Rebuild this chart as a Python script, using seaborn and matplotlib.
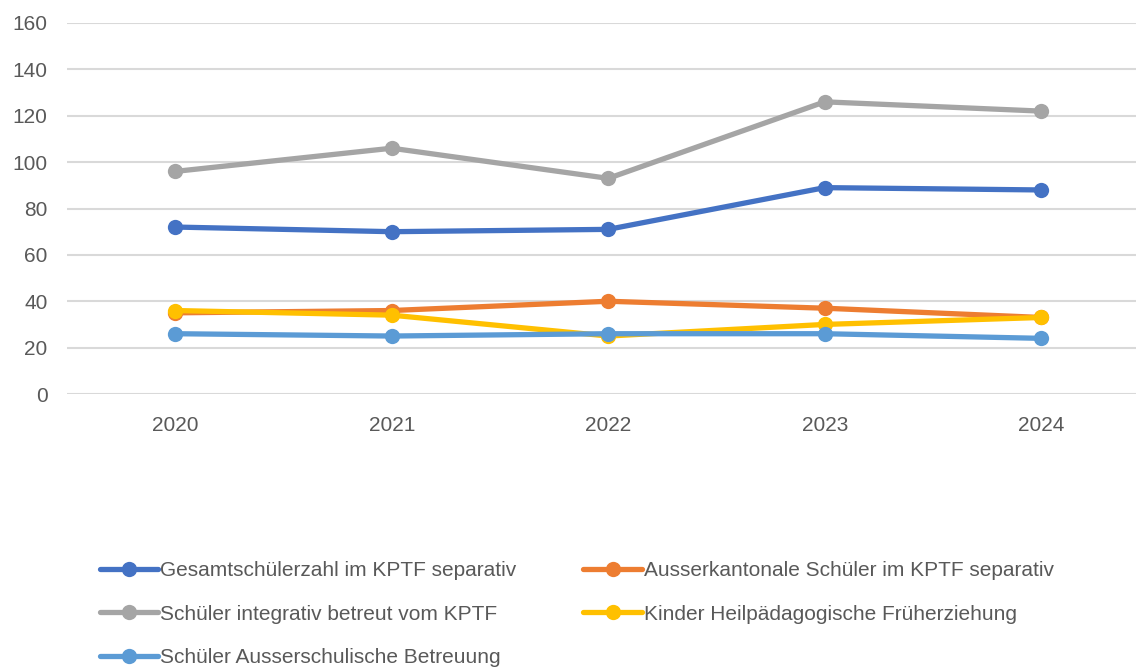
import pandas as pd
import matplotlib.pyplot as plt
import seaborn as sns
from matplotlib.lines import Line2D

# data
years = [2020, 2021, 2022, 2023, 2024]
gesamt = [72, 70, 71, 89, 88]
ausserkantonal = [35, 36, 40, 37, 33]
integrativ = [96, 106, 93, 126, 122]
frueh = [36, 34, 25, 30, 33]
ausserschulisch = [26, 25, 26, 26, 24]

series_names = [
    'Gesamtschülerzahl im KPTF separativ',
    'Ausserkantonale Schüler im KPTF separativ',
    'Schüler integrativ betreut vom KPTF',
    'Kinder Heilpädagogische Früherziehung',
    'Schüler Ausserschulische Betreuung',
]
series_values = [gesamt, ausserkantonal, integrativ, frueh, ausserschulisch]
colors = ['#4472C4', '#ED7D31', '#A5A5A5', '#FFC000', '#5B9BD5']

# long format for seaborn
rows = []
for name, vals in zip(series_names, series_values):
    for yr, v in zip(years, vals):
        rows.append({'year': yr, 'value': v, 'series': name})
df = pd.DataFrame(rows)

sns.set_style('white')
plt.rcParams['font.family'] = ['Liberation Sans', 'DejaVu Sans']

fig = plt.figure(figsize=(11.36, 6.71), dpi=100)
ax = fig.add_axes([67 / 1136, 1 - 394 / 671, 1 - 67 / 1136, (394 - 23) / 671])

sns.lineplot(data=df, x='year', y='value', hue='series', hue_order=series_names,
             palette=colors, marker='o', markersize=11, markeredgewidth=0,
             linewidth=3.8, legend=False, ax=ax)

ax.set_xlim(2019.5, 2024.438)
ax.set_ylim(0, 160)
ax.set_yticks(range(0, 161, 20))
ax.set_xticks(years)
ax.set_xticklabels([str(y) for y in years])
ax.set_xlabel('')
ax.set_ylabel('')

ax.grid(axis='y', color='#D9D9D9', linewidth=1.5)
ax.set_axisbelow(True)
for s in ax.spines.values():
    s.set_visible(False)
ax.tick_params(axis='both', length=0, labelsize=15, labelcolor='#595959')
ax.tick_params(axis='y', pad=14)
ax.tick_params(axis='x', pad=16)

# legend is filled row by row in the original -> reorder for column filling
order = [0, 2, 4, 1, 3]
handles = [Line2D([0], [0], color=colors[i], linewidth=3.8, marker='o', markersize=11,
                  markeredgewidth=0) for i in order]
labels = [series_names[i] for i in order]
fig.legend(handles, labels, loc='upper left', bbox_to_anchor=(100 / 1136, 1 - 561 / 671),
           ncol=2, frameon=False, fontsize=15, handlelength=2.8, handletextpad=0.1,
           columnspacing=3.2, labelspacing=1.18, borderpad=0, borderaxespad=0,
           labelcolor='#595959')

fig.savefig('out.png', dpi=100)
